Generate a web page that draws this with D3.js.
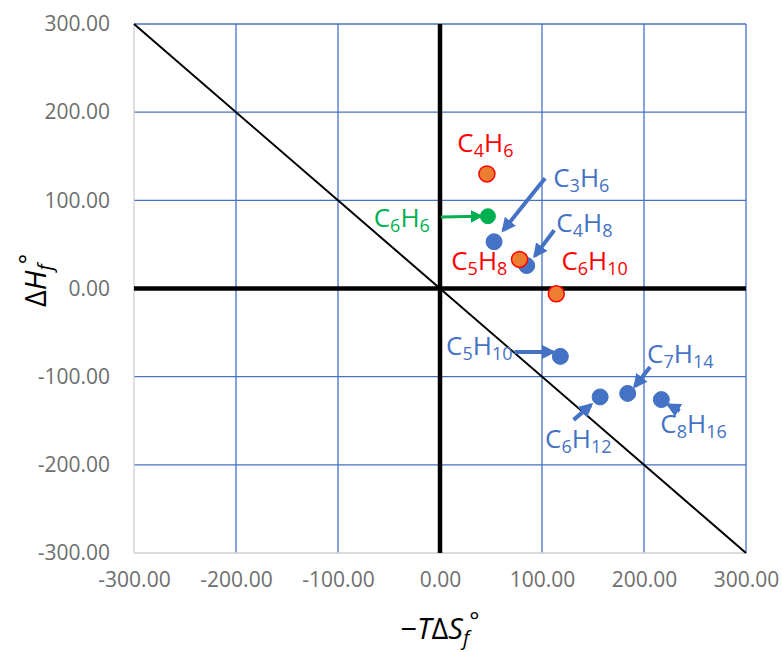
<!DOCTYPE html>
<html>
<head>
<meta charset="utf-8">
<script src="https://cdn.jsdelivr.net/npm/d3@7"></script>
<style>
body{margin:0;background:#fff}
svg text{font-family:"Open Sans",sans-serif}
</style>
</head>
<body>
<div class="Chart"></div>
<script>
// compounds: name parts, -TdS, dH, group
const compounds=['C4H6','C6H6','C3H6','C5H8','C4H8','C6H10','C5H10','C6H12','C7H14','C8H16']
const formulas=[['C','4','H','6'],['C','6','H','6'],['C','3','H','6'],['C','5','H','8'],['C','4','H','8'],
  ['C','6','H','10'],['C','5','H','10'],['C','6','H','12'],['C','7','H','14'],['C','8','H','16']]
const tds=[46,47,53,78,85,114,118,157,184,217]
const dh=[130,82,53,33,26,-6,-77,-123,-119,-126]
const groups=['diene','aromatic','alkene','diene','alkene','diene','alkene','alkene','alkene','alkene']
// label anchor (start of baseline) in data units
const labelX=[17,-65,111,11,114,119,6,103,203,216]
const labelY=[155,70,115,21,64,21,-75,-181,-85,-164]
// arrows from label to point, data units
const arrowFrom=[null,[1,81],[103,125],null,[112,66],null,[73,-72],[131,-149],[206,-89],[235,-139]]
const arrowTo=[null,[40,82],[62,66],null,[93,37],null,[111,-72],[148,-132],[191,-111],[224,-132]]

const xTicks=[-300,-200,-100,0,100,200,300]
const yTicks=[-300,-200,-100,0,100,200,300]

const colors={diene:'#ED7D31',aromatic:'#00B050',alkene:'#4472C4'}
const textColors={diene:'#FF0000',aromatic:'#00B050',alkene:'#4472C4'}

const W=782,H=652
const margin=({top:24,right:36,bottom:99,left:134})
const width=W-margin.left-margin.right,
      height=H-margin.top-margin.bottom

let svg=d3.select('.Chart').append('svg')
  .attr('width',W)
  .attr('height',H)
  .append('g')
  .attr('transform','translate('+margin.left+','+margin.top+')')

let xScale=d3.scaleLinear().domain([-300,300]).range([0,width])
let yScale=d3.scaleLinear().domain([-300,300]).range([height,0])

// gridlines
svg.selectAll('.vgrid').data(xTicks.filter(d=>d!=-300)).enter()
  .append('line')
  .attr('x1',d=>xScale(d)).attr('x2',d=>xScale(d))
  .attr('y1',0).attr('y2',height)
  .attr('stroke','#4472C4').attr('stroke-width',1.3)
svg.selectAll('.hgrid').data(yTicks.filter(d=>d!=-300)).enter()
  .append('line')
  .attr('y1',d=>yScale(d)).attr('y2',d=>yScale(d))
  .attr('x1',0).attr('x2',width)
  .attr('stroke','#4472C4').attr('stroke-width',1.3)

// axis lines at the minimum
svg.append('line').attr('x1',0).attr('x2',0).attr('y1',0).attr('y2',height)
  .attr('stroke','#d0d0d0').attr('stroke-width',1.3)
svg.append('line').attr('x1',0).attr('x2',width).attr('y1',height).attr('y2',height)
  .attr('stroke','#d0d0d0').attr('stroke-width',1.3)

// tick labels (plain hyphen like Excel)
const fmt=d=>d3.format('.2f')(d).replace('\u2212','-')
let xAxis=d3.axisBottom(xScale).tickValues(xTicks).tickSize(0).tickPadding(19).tickFormat(fmt)
let yAxis=d3.axisLeft(yScale).tickValues(yTicks).tickSize(0).tickPadding(24).tickFormat(fmt)
svg.append('g').attr('class','x-axis').attr('transform',`translate(0,${height})`).call(xAxis)
svg.append('g').attr('class','y-axis').call(yAxis)
svg.selectAll('.x-axis path,.y-axis path').remove()
svg.selectAll('.x-axis text,.y-axis text')
  .attr('fill','#6e6e6e').style('font-size','21px')

// zero lines
svg.append('line').attr('x1',0).attr('x2',width).attr('y1',yScale(0)).attr('y2',yScale(0))
  .attr('stroke','#000').attr('stroke-width',4.5)
svg.append('line').attr('x1',xScale(0)).attr('x2',xScale(0)).attr('y1',0).attr('y2',height)
  .attr('stroke','#000').attr('stroke-width',4.5)

// diagonal dH = TdS
svg.append('line')
  .attr('x1',xScale(-300)).attr('y1',yScale(300))
  .attr('x2',xScale(300)).attr('y2',yScale(-300))
  .attr('stroke','#000').attr('stroke-width',2)

// arrowheads
const defs=svg.append('defs')
Object.keys(colors).forEach(k=>{
  defs.append('marker')
    .attr('id','head-'+k)
    .attr('viewBox','0 0 10 10')
    .attr('refX',8).attr('refY',5)
    .attr('markerWidth',k=='aromatic'?4.2:3.6).attr('markerHeight',k=='aromatic'?4.2:3.6)
    .attr('orient','auto')
    .append('path').attr('d','M0,0L10,5L0,10z')
    .attr('fill',textColors[k])
})

let data=compounds.map((c,i)=>({name:c,f:formulas[i],x:tds[i],y:dh[i],g:groups[i],
  lx:labelX[i],ly:labelY[i],from:arrowFrom[i],to:arrowTo[i]}))

svg.selectAll('.arrow').data(data.filter(d=>d.from&&d.to)).enter()
  .append('line')
  .attr('class','arrow')
  .attr('x1',d=>xScale(d.from[0])).attr('y1',d=>yScale(d.from[1]))
  .attr('x2',d=>xScale(d.to[0])).attr('y2',d=>yScale(d.to[1]))
  .attr('stroke',d=>textColors[d.g])
  .attr('stroke-width',d=>d.g=='aromatic'?3:4)
  .attr('marker-end',d=>'url(#head-'+d.g+')')

// points (blue ones first so orange sits on top)
let order=data.slice().sort((a,b)=>(a.g=='diene')-(b.g=='diene'))
svg.selectAll('.pt').data(order).enter()
  .append('circle')
  .attr('class','pt')
  .attr('cx',d=>xScale(d.x)).attr('cy',d=>yScale(d.y))
  .attr('r',d=>d.g=='aromatic'?7.5:8)
  .attr('fill',d=>colors[d.g])
  .attr('stroke',d=>d.g=='diene'?'#FF0000':colors[d.g])
  .attr('stroke-width',d=>d.g=='diene'?1.5:1)

// formula labels
let labels=svg.selectAll('.lab').data(data).enter()
  .append('text')
  .attr('class','lab')
  .attr('x',d=>xScale(d.lx)).attr('y',d=>yScale(d.ly))
  .attr('fill',d=>textColors[d.g])
  .style('font-size','26px')
labels.each(function(d){
  let t=d3.select(this)
  d.f.forEach((p,j)=>{
    let s=t.append('tspan').text(p)
    if(j%2==1) s.style('font-size','18px').attr('dy',5)
    else if(j>0) s.attr('dy',-5)
  })
})

// axis titles
let xt=svg.append('text')
  .attr('x',width/2).attr('y',height+86)
  .attr('text-anchor','middle')
  .style('font-size','29px').attr('fill','#000')
xt.append('tspan').text('\u2212')
xt.append('tspan').text('T').style('font-style','italic')
xt.append('tspan').text('\u0394')
xt.append('tspan').text('S').style('font-style','italic')
xt.append('tspan').text('f').style('font-style','italic').style('font-size','20px').attr('dy',6)
xt.append('tspan').text('\u00b0').attr('dy',-16).style('font-size','24px')

let yt=svg.append('text')
  .attr('transform',`translate(${-134+46},${height/2-8}) rotate(-90)`)
  .attr('text-anchor','middle')
  .style('font-size','29px').attr('fill','#000')
yt.append('tspan').text('\u0394')
yt.append('tspan').text('H').style('font-style','italic')
yt.append('tspan').text('f').style('font-style','italic').style('font-size','20px').attr('dy',6)
yt.append('tspan').text('\u00b0').attr('dy',-16).style('font-size','24px')
</script>
</body>
</html>
